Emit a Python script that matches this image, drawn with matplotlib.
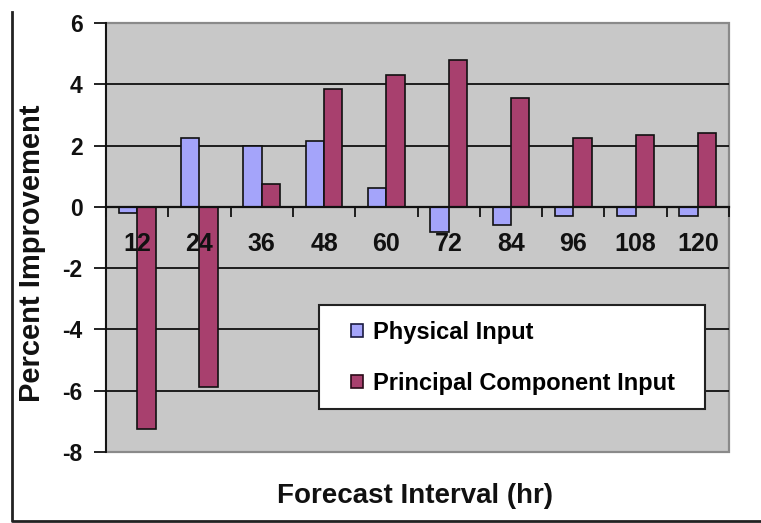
import matplotlib
matplotlib.use("Agg")
import matplotlib.pyplot as plt
from matplotlib.patches import Rectangle, Patch
from matplotlib.lines import Line2D
import numpy as np

plt.rcParams['font.family'] = ['Liberation Sans', 'DejaVu Sans']
plt.rcParams['font.weight'] = 'bold'

# Forecast intervals (hours) and percent improvement for each input type
intervals = ["12", "24", "36", "48", "60", "72", "84", "96", "108", "120"]
physical_input = [-0.2, 2.25, 2.0, 2.15, 0.6, -0.82, -0.6, -0.29, -0.29, -0.29]
principal_component_input = [-7.25, -5.88, 0.75, 3.85, 4.3, 4.8, 3.55, 2.25, 2.35, 2.4]
y_ticks = [-8, -6, -4, -2, 0, 2, 4, 6]

W, H = 761, 523
fig = plt.figure(figsize=(W / 100, H / 100), dpi=100)
fig.patch.set_facecolor("white")

# plot area in pixel terms
left, right, top, bottom = 106, 729, 23, 452
ax = fig.add_axes([left / W, 1 - bottom / H, (right - left) / W, (bottom - top) / H])
ax.set_facecolor("#c8c8c8")
ax.patch.set_edgecolor("#8a8a8a")
ax.patch.set_linewidth(1.6)

x = np.arange(len(intervals))
bw = 0.295
phys_color = "#a4a4fa"
pc_color = "#a8406e"
ax.bar(x - bw / 2, physical_input, width=bw, color=phys_color,
       edgecolor="#111111", linewidth=1.2, zorder=1)
ax.bar(x + bw / 2, principal_component_input, width=bw, color=pc_color,
       edgecolor="#111111", linewidth=1.2, zorder=1)

ax.set_xlim(-0.5, len(intervals) - 0.5)
ax.set_ylim(-8, 6)

# horizontal gridlines behind the bars
for yv in y_ticks:
    if yv not in (-8, 0, 6):
        ax.axhline(yv, color="#111111", linewidth=1.3, zorder=0.5)

# spines
for s in ("top", "right"):
    ax.spines[s].set_visible(False)
ax.spines["left"].set_color("#111111")
ax.spines["left"].set_linewidth(1.4)
ax.spines["bottom"].set_position(("data", 0))
ax.spines["bottom"].set_color("#111111")
ax.spines["bottom"].set_linewidth(1.6)

# y axis
ax.set_yticks(y_ticks)
ax.set_yticklabels([str(v) for v in y_ticks])
ax.tick_params(axis="y", direction="out", length=9, width=1.3, color="#111111",
               pad=8, labelsize=16.5)

# x axis: labels at category centres, tick marks at category boundaries
ax.set_xticks(x)
ax.set_xticklabels(intervals)
ax.set_xticks(np.arange(len(intervals) + 1) - 0.5, minor=True)
ax.tick_params(axis="x", which="major", length=0, pad=18, labelsize=18)
ax.tick_params(axis="x", which="minor", direction="out", length=7, width=1.3,
               color="#111111")
for lbl in ax.get_xticklabels() + ax.get_yticklabels():
    lbl.set_fontweight("bold")
    lbl.set_color("#111111")

# axis titles
fig.text(32 / W, 1 - 253 / H, "Percent Improvement", rotation=90,
         ha="center", va="center", fontsize=21, fontweight="bold", color="#111111")
fig.text(415 / W, 1 - 496 / H, "Forecast Interval (hr)",
         ha="center", va="center", fontsize=20, fontweight="bold", color="#111111")

# legend box
lx0, ly0, lx1, ly1 = 319, 305, 705, 409
fig.patches.append(Rectangle((lx0 / W, 1 - ly1 / H), (lx1 - lx0) / W, (ly1 - ly0) / H,
                             transform=fig.transFigure, facecolor="white",
                             edgecolor="#222222", linewidth=1.5, zorder=2))
handles = [Patch(facecolor=phys_color, edgecolor="#1a1a40", linewidth=1.2),
           Patch(facecolor=pc_color, edgecolor="#2a0a18", linewidth=1.2)]
leg = fig.legend(handles, ["Physical Input", "Principal Component Input"],
                 loc="upper left", bbox_to_anchor=(351 / W, 1 - 321 / H),
                 frameon=False, borderpad=0, borderaxespad=0,
                 handlelength=0.5, handleheight=0.5, handletextpad=0.42,
                 labelspacing=1.17, prop={"size": 17, "weight": "bold"})
leg.set_zorder(3)

# chart area border (left and bottom edges)
fig.lines.append(Line2D([12 / W, 12 / W, 1.0], [1 - 12 / H, 1 - 521 / H, 1 - 521 / H],
                        transform=fig.transFigure, color="#222222", linewidth=2))

fig.savefig("out.png", dpi=100)
